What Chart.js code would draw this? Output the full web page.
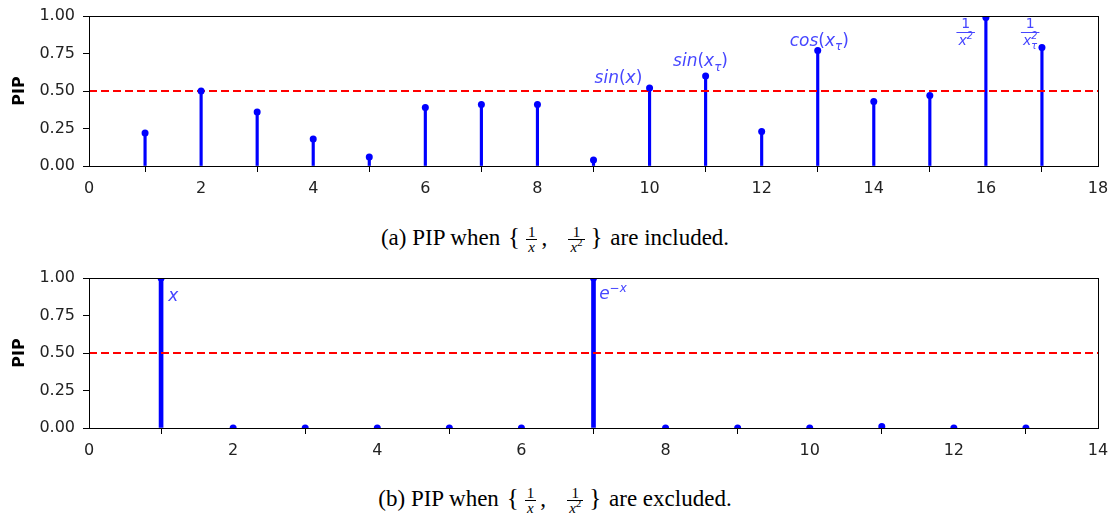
<!DOCTYPE html>
<html>
<head>
<meta charset="utf-8">
<script src="https://cdn.jsdelivr.net/npm/chart.js@4.4.1/dist/chart.umd.min.js"></script>
<style>
  body { margin: 0; background: #fff; width: 1110px; height: 513px; overflow: hidden; position: relative; }
  .box { position: absolute; left: 0; width: 1110px; height: 205px; }
  .cap { position: absolute; left: 0; width: 1110px; text-align: center; font-family: "Liberation Serif", serif; font-size: 23px; line-height: 26px; color: #000; white-space: nowrap; }
  .frac { display: inline-block; vertical-align: middle; text-align: center; font-size: 15px; line-height: 14px; margin: 0 4px; }
  .frac span { display: block; padding: 0 2px; }
  .frac .den { border-top: 1px solid #000; font-style: italic; }
  .frac sup { font-size: 11px; font-style: normal; line-height: 0; }
  .brace { font-size: 25px; margin: 0 2px; }
</style>
</head>
<body>
<div class="box" style="top:0"><canvas id="chartA"></canvas></div>
<div class="cap" style="top:224px">(a) PIP when <span class="brace">{</span><span class="frac"><span>1</span><span class="den">x</span></span>,&nbsp;&nbsp;&nbsp;<span class="frac"><span>1</span><span class="den">x<sup>2</sup></span></span><span class="brace">}</span> are included.</div>
<div class="box" style="top:262px"><canvas id="chartB"></canvas></div>
<div class="cap" style="top:485px">(b) PIP when <span class="brace">{</span><span class="frac"><span>1</span><span class="den">x</span></span>,&nbsp;&nbsp;&nbsp;<span class="frac"><span>1</span><span class="den">x<sup>2</sup></span></span><span class="brace">}</span> are excluded.</div>
<script>
// (a) with 1/x and 1/x^2 included
const featuresA = [1, 2, 3, 4, 5, 6, 7, 8, 9, 10, 11, 12, 13, 14, 15, 16, 17];
const pipA = [0.22, 0.50, 0.36, 0.18, 0.06, 0.39, 0.41, 0.41, 0.04, 0.52, 0.60, 0.23, 0.77, 0.43, 0.47, 0.99, 0.79];
// (b) excluded
const featuresB = [1, 2, 3, 4, 5, 6, 7, 8, 9, 10, 11, 12, 13];
const pipB = [1.0, 0, 0, 0, 0, 0, 1.0, 0, 0, 0, 0.01, 0, 0];

const threshold = 0.5;
const yTicks = [0, 0.25, 0.5, 0.75, 1.0];

// text annotations (data coordinates)
const notesA = [
  { x: 9.02, y: 0.553, parts: [['sin', 'n'], ['(', 'r'], ['x', 'n'], [')', 'r']] },
  { x: 10.42, y: 0.664, parts: [['sin', 'n'], ['(', 'r'], ['x', 'n'], ['τ', 'b'], [')', 'r']] },
  { x: 12.5, y: 0.80, parts: [['cos', 'n'], ['(', 'r'], ['x', 'n'], ['τ', 'b'], [')', 'r']] },
  { x: 15.64, y: 0.893, num: '1', den: [['x', 'n'], ['2', 'p']] },
  { x: 16.79, y: 0.893, num: '1', den: [['x', 'n'], ['τ', 'b'], ['2', 'p', true]] }
];
const notesB = [
  { x: 1.1, y: 0.85, parts: [['x', 'n']] },
  { x: 7.08, y: 0.86, parts: [['e', 'n'], ['−x', 'p']] }
];

const noteColor = 'rgb(70,70,255)';

function fontFor(p, s) {
  if (p[1] === 'r') return s + 'px "DejaVu Sans"';
  return 'italic ' + s + 'px "DejaVu Sans"';
}
function drawParts(ctx, parts, x, y, size) {
  let cx = x, lastW = 0;
  parts.forEach(function (p) {
    let s = size, dy = 0;
    if (p[1] === 'b') { s = size * 0.7; dy = size * 0.25; }
    if (p[1] === 'p') { s = size * 0.7; dy = -size * 0.42; }
    ctx.font = fontFor(p, s);
    if (p[2]) cx -= lastW;
    ctx.fillText(p[0], cx, y + dy);
    lastW = ctx.measureText(p[0]).width;
    cx += lastW;
  });
}
function partsWidth(ctx, parts, size) {
  let w = 0, lastW = 0;
  parts.forEach(function (p) {
    const s = (p[1] === 'b' || p[1] === 'p') ? size * 0.7 : size;
    ctx.font = fontFor(p, s);
    if (p[2]) w -= lastW;
    lastW = ctx.measureText(p[0]).width;
    w += lastW;
  });
  return w;
}

function notesPlugin(notes) {
  return {
    id: 'notes',
    afterDatasetsDraw(chart) {
      const ctx = chart.ctx, xs = chart.scales.x, ys = chart.scales.y;
      ctx.save();
      ctx.fillStyle = noteColor;
      ctx.strokeStyle = noteColor;
      ctx.textBaseline = 'alphabetic';
      ctx.textAlign = 'left';
      notes.forEach(function (n) {
        const px = xs.getPixelForValue(n.x), py = ys.getPixelForValue(n.y);
        if (n.parts) {
          drawParts(ctx, n.parts, px, py, 17);
        } else {
          const fs = 14;
          const dw = partsWidth(ctx, n.den, fs);
          ctx.font = fs + 'px "DejaVu Sans"';
          const nw = ctx.measureText(n.num).width;
          const w = Math.max(dw, nw) + 4;
          ctx.fillText(n.num, px - nw / 2, py - 4);
          ctx.lineWidth = 1;
          ctx.beginPath();
          ctx.moveTo(px - w / 2, Math.round(py) + 0.5);
          ctx.lineTo(px + w / 2, Math.round(py) + 0.5);
          ctx.stroke();
          drawParts(ctx, n.den, px - dw / 2, py + 13, fs);
        }
      });
      ctx.restore();
    }
  };
}

const framePlugin = {
  id: 'frame',
  afterDraw(chart) {
    const a = chart.chartArea, ctx = chart.ctx;
    ctx.save();
    ctx.strokeStyle = '#000';
    ctx.lineWidth = 1;
    ctx.strokeRect(Math.round(a.left) + 0.5, Math.round(a.top) + 0.5, Math.round(a.right - a.left), Math.round(a.bottom - a.top));
    ctx.restore();
  }
};

function makeChart(id, feats, vals, xMax, stemW, notes) {
  const pts = feats.map(function (f, i) { return { x: f, y: vals[i] }; });
  return new Chart(document.getElementById(id), {
    type: 'bar',
    data: {
      datasets: [
        {
          type: 'scatter',
          data: pts,
          backgroundColor: '#0000ff',
          borderWidth: 0,
          pointRadius: 3.5,
          clip: 0
        },
        {
          type: 'line',
          data: [{ x: 0, y: threshold }, { x: xMax, y: threshold }],
          borderColor: '#ff0000',
          borderWidth: 2,
          borderDash: [8, 4],
          pointRadius: 0
        },
        {
          type: 'bar',
          data: pts,
          backgroundColor: '#0000ff',
          barThickness: stemW
        }
      ]
    },
    options: {
      responsive: true,
      maintainAspectRatio: false,
      animation: false,
      layout: { padding: { top: 16, right: 12, left: 0, bottom: 0 } },
      plugins: { legend: { display: false }, tooltip: { enabled: false } },
      scales: {
        x: {
          type: 'linear',
          min: 0,
          max: xMax,
          offset: false,
          afterFit: function (s) { s.height = 39; s.paddingLeft = 0; s.paddingRight = 0; },
          ticks: { stepSize: 2, color: '#222', padding: 7, font: { family: 'DejaVu Sans', size: 16 } },
          grid: { drawOnChartArea: false, drawTicks: true, tickLength: 6, color: '#000' },
          border: { display: true, color: '#000' }
        },
        y: {
          min: 0,
          max: 1,
          afterBuildTicks: function (s) { s.ticks = yTicks.map(function (v) { return { value: v }; }); },
          afterFit: function (s) { s.width = 89; s.paddingTop = 0; s.paddingBottom = 0; },
          ticks: {
            color: '#222',
            padding: 8,
            font: { family: 'DejaVu Sans', size: 16 },
            callback: function (v) { return v.toFixed(2); }
          },
          grid: { drawOnChartArea: false, drawTicks: true, tickLength: 6, color: '#000' },
          border: { display: true, color: '#000' },
          title: { display: true, text: 'PIP', color: '#000', padding: { top: 10, bottom: 0 }, font: { family: 'DejaVu Sans', size: 16, weight: 'bold' } }
        }
      }
    },
    plugins: [notesPlugin(notes), framePlugin]
  });
}

makeChart('chartA', featuresA, pipA, 18, 2.5, notesA);
makeChart('chartB', featuresB, pipB, 14, 4, notesB);
</script>
</body>
</html>
